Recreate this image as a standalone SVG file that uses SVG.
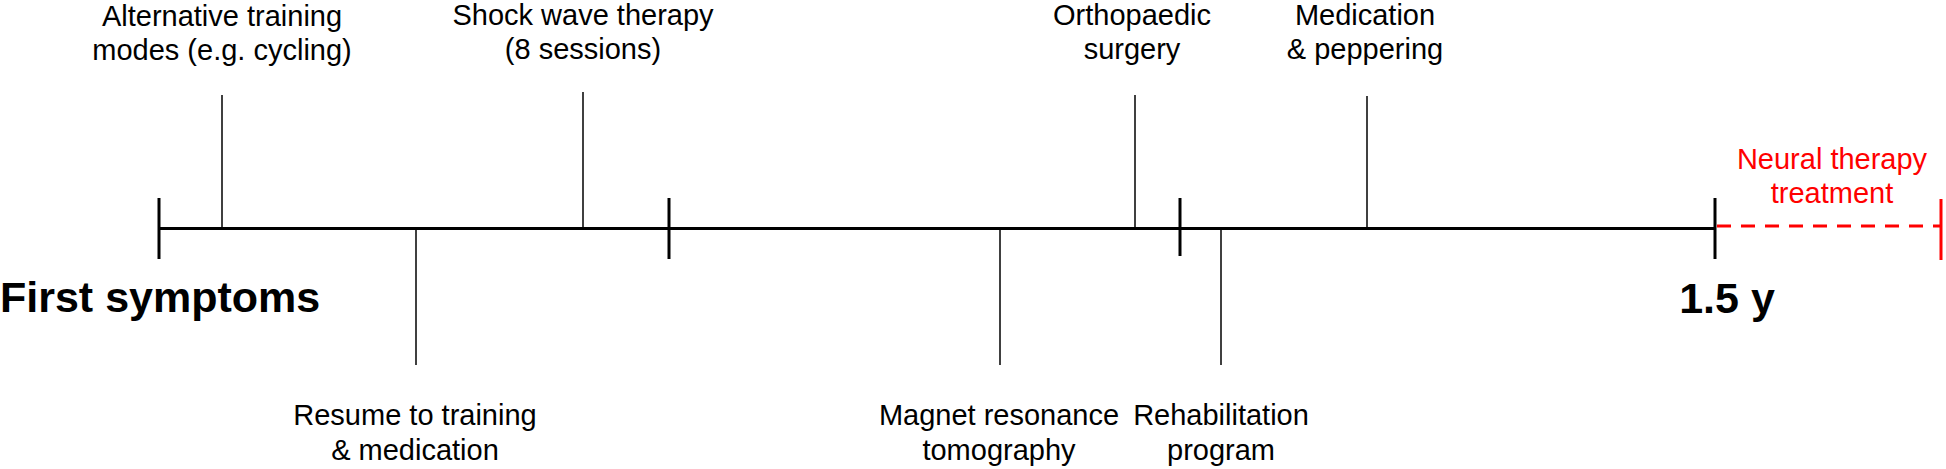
<svg xmlns="http://www.w3.org/2000/svg" width="1946" height="469" viewBox="0 0 1946 469">
<style>
text{font-family:"Liberation Sans",Arial,sans-serif;fill:#000}
.lbl{font-size:29px;text-anchor:middle}
.big{font-size:43px;font-weight:bold}
.red{fill:#FF0000}
.axis{stroke:#000;stroke-width:3;fill:none}
.tick{stroke:#000;stroke-width:3}
.ev{stroke:#000;stroke-width:1.5}
.dash{stroke:#FF0000;stroke-width:3;stroke-dasharray:14 10}
</style>
<rect width="1946" height="469" fill="#fff"/>
<g id="connectors">
<line class="axis" x1="159" y1="228.5" x2="1715" y2="228.5"/>
<line class="tick" x1="159" y1="198" x2="159" y2="259"/>
<line class="tick" x1="669" y1="198" x2="669" y2="259"/>
<line class="tick" x1="1180" y1="198" x2="1180" y2="256"/>
<line class="tick" x1="1715" y1="198" x2="1715" y2="259"/>
<line class="dash" x1="1717" y1="226" x2="1941" y2="226"/>
<line stroke="#FF0000" stroke-width="3" x1="1941" y1="199" x2="1941" y2="260"/>
<line class="ev" x1="222" y1="95" x2="222" y2="229"/>
<line class="ev" x1="583" y1="92" x2="583" y2="229"/>
<line class="ev" x1="1135" y1="95" x2="1135" y2="229"/>
<line class="ev" x1="1367" y1="96" x2="1367" y2="229"/>
<line class="ev" x1="416" y1="229" x2="416" y2="365"/>
<line class="ev" x1="1000" y1="229" x2="1000" y2="365"/>
<line class="ev" x1="1221" y1="229" x2="1221" y2="365"/>
</g>
<g id="start"><text class="big" x="0" y="312">First symptoms</text></g>
<g id="end"><text class="big" x="1727" y="313" text-anchor="middle">1.5 y</text></g>
<g id="alt"><text class="lbl" x="222" y="26">Alternative training</text><text class="lbl" x="222" y="60">modes (e.g. cycling)</text></g>
<g id="shock"><text class="lbl" x="583" y="25">Shock wave therapy</text><text class="lbl" x="583" y="59">(8 sessions)</text></g>
<g id="ortho"><text class="lbl" x="1132" y="25">Orthopaedic</text><text class="lbl" x="1132" y="59">surgery</text></g>
<g id="medpep"><text class="lbl" x="1365" y="25">Medication</text><text class="lbl" x="1365" y="59">&amp; peppering</text></g>
<g id="resume"><text class="lbl" x="415" y="425">Resume to training</text><text class="lbl" x="415" y="460">&amp; medication</text></g>
<g id="mrt"><text class="lbl" x="999" y="425">Magnet resonance</text><text class="lbl" x="999" y="460">tomography</text></g>
<g id="rehab"><text class="lbl" x="1221" y="425">Rehabilitation</text><text class="lbl" x="1221" y="460">program</text></g>
<g id="neural"><text class="lbl red" x="1832" y="169">Neural therapy</text><text class="lbl red" x="1832" y="203">treatment</text></g>
</svg>
